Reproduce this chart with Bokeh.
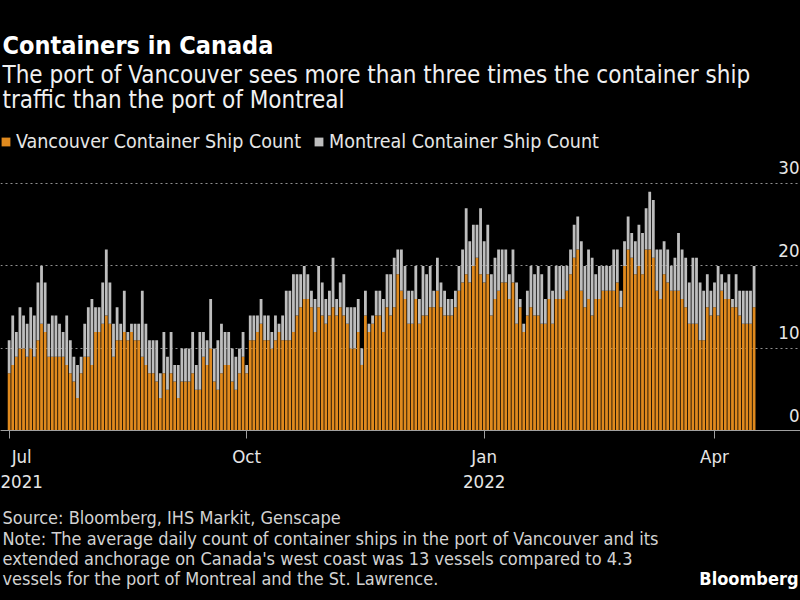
import numpy as np
import pandas as pd
from bokeh.plotting import figure
from bokeh.models import (ColumnDataSource, Range1d, FixedTicker, Legend,
                          LegendItem, Label)
from bokeh.core.properties import value
from bokeh.embed import file_html
from bokeh.resources import INLINE

# ---- data (daily business-day counts) ----
start_date = "2021-07-01"

vancouver = [
    7, 8, 9, 10, 10, 9, 10, 9, 11, 13, 12, 9, 9, 9, 9, 9, 8, 7, 6, 4,
    7, 9, 9, 8, 12, 12, 13, 14, 13, 9, 11, 11, 12, 11,
    12, 11, 11, 9, 8, 7, 7, 6, 4, 7, 5, 7, 6, 4, 6, 6, 6, 7, 5, 5,
    9, 8, 10, 6, 5, 7, 8, 8, 6, 5, 7, 9, 7, 11, 11,
    12, 13, 11, 11, 10, 11, 12, 11, 11, 11, 12, 14, 15, 16, 16, 15, 12, 15, 14, 13,
    14, 15, 14, 15, 14, 13, 10, 10, 12, 8, 14, 12, 13, 14, 14,
    12, 15, 14, 15, 19, 17, 16, 13, 13, 16, 13, 14, 14, 15, 15, 17, 15, 14, 14, 14,
    15, 17, 18, 19, 18, 20, 21, 19, 18, 19, 14, 16, 17, 18, 18,
    16, 18, 13, 15, 12, 14, 15, 14, 14, 13, 13, 16, 13, 16, 16, 16, 17, 19, 21, 22,
    17, 15, 16, 14, 16, 16, 17, 17, 17, 17, 18, 15, 20, 22, 21,
    19, 20, 19, 22, 22, 21, 17, 16, 19, 18, 17, 17, 17, 16, 15, 13, 13, 13, 11, 11,
    15, 14, 15, 14, 17, 16, 16, 15, 15, 14, 13, 13, 13, 15,
]

montreal = [
    4, 6, 3, 5, 4, 4, 5, 5, 7, 7, 6, 4, 5, 5, 4, 3, 6, 4, 3, 4,
    2, 4, 6, 8, 3, 3, 5, 8, 5, 4, 4, 2, 5, 1,
    1, 2, 2, 8, 5, 4, 4, 5, 3, 5, 4, 5, 2, 4, 4, 4, 4, 5, 3, 7,
    3, 3, 6, 4, 6, 6, 4, 4, 4, 4, 3, 3, 1, 3, 3,
    2, 3, 3, 3, 2, 3, 1, 3, 6, 6, 7, 5, 4, 4, 3, 2, 4, 5, 4, 3,
    3, 6, 2, 3, 5, 2, 5, 5, 4, 2, 3, 1, 1, 3, 3,
    4, 4, 5, 6, 3, 5, 4, 4, 4, 4, 3, 6, 5, 5, 2, 4, 3, 3, 2, 2,
    2, 3, 4, 8, 5, 5, 4, 8, 5, 6, 5, 5, 5, 4, 4,
    3, 4, 5, 1, 1, 3, 5, 5, 6, 6, 3, 4, 4, 4, 4, 4, 3, 3, 4, 4,
    6, 5, 6, 7, 3, 4, 3, 3, 3, 5, 4, 2, 3, 4, 3,
    4, 5, 5, 5, 7, 7, 5, 6, 4, 4, 3, 4, 7, 6, 6, 5, 8, 8, 7, 6,
    4, 3, 3, 6, 2, 2, 3, 1, 4, 3, 4, 4, 4, 5,
]

y_ticks = [0, 10, 20, 30]
series_labels = ["Vancouver Container Ship Count", "Montreal Container Ship Count"]

title_text = "Containers in Canada"
subtitle_lines = ["The port of Vancouver sees more than three times the container ship",
                  "traffic than the port of Montreal"]
source_text = "Source: Bloomberg, IHS Markit, Genscape"
note_lines = ["Note: The average daily count of container ships in the port of Vancouver and its",
              "extended anchorage on Canada's west coast was 13 vessels compared to 4.3",
              "vessels for the port of Montreal and the St. Lawrence."]
brand_text = "Bloomberg"

# ---- styling ----
ORANGE = "#E08A1E"
GRAY = "#BEBEBE"
TEXT = "#E6E6E6"
SOFT = "#D2D2D2"
FONT = "DejaVu Sans Condensed"
W, H = 800, 600

dates = pd.bdate_range(start=start_date, periods=len(vancouver))
x = np.arange(len(dates))
source = ColumnDataSource(dict(x=x, vancouver=vancouver, montreal=montreal))

# the frame covers the whole canvas; the date axis sits at y = 0 inside it
p = figure(width=W, height=H, output_backend="svg", toolbar_location=None,
           x_range=Range1d(-2.4, 219.9), y_range=Range1d(-20.55, 52.18),
           background_fill_color="black", border_fill_color="black",
           outline_line_color=None, title_location=None, min_border=0)

rs = p.vbar_stack(["vancouver", "montreal"], x="x", width=0.78,
                  fill_color=[ORANGE, GRAY], line_color=None, source=source)

# x axis: quarterly ticks from the dates
tick_idx = [i for i in range(len(dates))
            if i == 0 or (dates[i].month != dates[i - 1].month and dates[i].month in (1, 4, 7, 10))]
overrides = {}
for i in tick_idx:
    d = dates[i]
    lab = d.strftime("%b")
    if i == 0 or d.month == 1:
        lab += "\n" + str(d.year)
    overrides[i] = lab
ax = p.xaxis[0]
ax.fixed_location = 0
ax.ticker = FixedTicker(ticks=tick_idx)
ax.major_label_overrides = overrides
ax.axis_line_color = "#A0A0A0"
ax.major_tick_line_color = "#A0A0A0"
ax.major_tick_in = 0
ax.major_tick_out = 8
ax.minor_tick_line_color = None
ax.major_label_text_color = TEXT
ax.major_label_text_font = FONT
ax.major_label_text_font_size = "18.5px"
ax.major_label_standoff = 7

p.xgrid.visible = False
p.yaxis.visible = False
p.ygrid.ticker = FixedTicker(ticks=y_ticks)
p.ygrid.grid_line_color = "#909090"
p.ygrid.grid_line_dash = "2 3"
p.ygrid.grid_line_width = 1

# y tick labels on the right, sitting above the grid lines
p.text(x=[p.x_range.end] * len(y_ticks), y=y_ticks, text=[str(t) for t in y_ticks],
       text_align="right", text_baseline="bottom", x_offset=-1, y_offset=-9,
       text_color=TEXT, text_font=value(FONT), text_font_size="18.5px")

# legend strip between subtitle and plot
legend = Legend(items=[LegendItem(label=series_labels[0], renderers=[rs[0]]),
                       LegendItem(label=series_labels[1], renderers=[rs[1]])],
                orientation="horizontal", location=(0, 447),
                glyph_width=11, glyph_height=11, label_height=20,
                label_standoff=5, spacing=12, padding=0, margin=0,
                label_text_font=FONT, label_text_font_size="19.5px",
                label_text_color=TEXT, background_fill_alpha=0,
                border_line_color=None)
p.add_layout(legend)

def text_label(txt, top_y, size, style="normal", color=TEXT, xpos=2, align="left"):
    # top_y: distance of the line's centre from the top of the canvas, in pixels
    return Label(x=xpos, y=H - top_y, x_units="screen", y_units="screen",
                 text=txt, text_align=align, text_baseline="middle",
                 text_font=FONT, text_font_size=size, text_font_style=style,
                 text_color=color)

p.add_layout(text_label(title_text, 45, "25px", "bold", "#FFFFFF"))
p.add_layout(text_label(subtitle_lines[0], 74, "24px", color="#F0F0F0"))
p.add_layout(text_label(subtitle_lines[1], 99, "24px", color="#F0F0F0"))
p.add_layout(text_label(source_text, 517, "18px", color=SOFT))
for k, ln in enumerate(note_lines):
    p.add_layout(text_label(ln, 538 + 20 * k, "18px", color=SOFT))
p.add_layout(text_label(brand_text, 578, "18px", "bold", "#FFFFFF", xpos=798, align="right"))

html = file_html(p, INLINE, title="Containers in Canada")
html = html.replace("<head>", "<head><style>html,body{background:#000;}</style>", 1)
open("out.html", "w").write(html)
